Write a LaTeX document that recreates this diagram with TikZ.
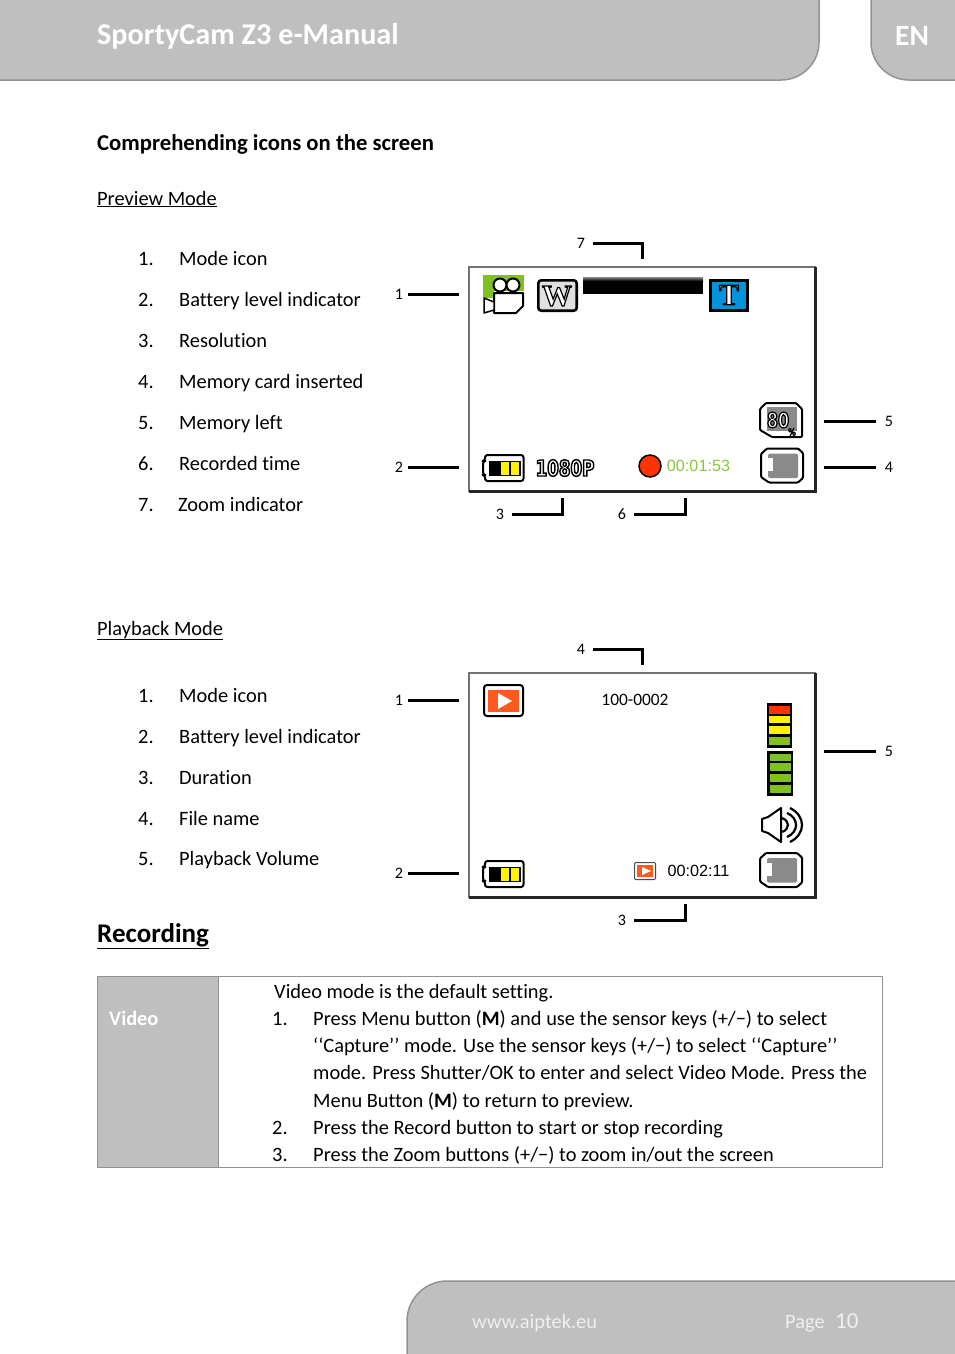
\documentclass[tikz,border=0pt]{standalone}
\usepackage{fontspec}
\setmainfont{Carlito}[Ligatures=NoCommon]
\newfontfamily\serifb{Liberation Serif Bold}
\newfontfamily\arialf{Liberation Sans}
\newfontfamily\iconb{DejaVu Sans Bold}[FakeStretch=0.76]
\definecolor{band}{HTML}{BFBFBF}
\definecolor{bandline}{HTML}{939393}
\definecolor{oranger}{HTML}{FF5A1E}
\definecolor{redm}{HTML}{FF3300}
\definecolor{greenm}{HTML}{80C020}
\definecolor{timegreen}{HTML}{8CC63F}
\definecolor{blueT}{HTML}{0094DC}
\definecolor{cardgray}{HTML}{8A8A8A}
\newcommand\fs[1]{\fontsize{#1}{#1}\selectfont}
\newcommand\outl[2]{\special{pdf:code q 2 Tr #1 w 0 0 0 RG 1 1 1 rg}#2\special{pdf:code Q}}
\tikzset{
  x=1pt,y=-1pt,
  txt/.style={anchor=base west,inner sep=0pt,text=black,font=\fs{20.4}},
  small/.style={inner sep=0pt,text=black,font=\fs{16}},
  callnum/.style={small,outer xsep=8pt},
  lead/.style={draw=black,line width=3pt,line join=miter},
  bandshape/.style={fill=band,draw=bandline,line width=1.5pt},
  screen/.style={fill=white,draw=gray!90!black,line width=1.2pt},
  screenedge/.style={draw=black!85,line width=3pt},
  iconline/.style={draw=black,line width=2pt,line join=round},
  timetext/.style={inner sep=0pt,font=\arialf\fs{16.2}},
}
\newcommand\batteryicon[2]{\begin{scope}[shift={(#1,#2)}]
  \draw[iconline,fill=white,rounded corners=2.5pt] (3,0) -- (41.5,0) -- (41.5,26) -- (3,26) -- (3,20) -- (1,20) -- (1,6) -- (3,6) -- cycle;
  \fill[black] (7,6) rectangle (39,20.5);
  \fill[yellow] (19,7) rectangle (27,19.5);
  \fill[yellow] (29,7) rectangle (37,19.5);
\end{scope}}
\newcommand\cardicon[2]{\begin{scope}[shift={(#1,#2)}]
  \draw[iconline,fill=white,rounded corners=1pt] (7,0.5) -- (38,0.5) -- (43,5) -- (43,30) -- (38,34.5) -- (9,34.5) -- (1,29) -- (1,6) -- cycle;
  \fill[cardgray,rounded corners=1.5pt] (8,5.5) rectangle (38,30);
  \fill[white] (8,10) rectangle (13,23);
\end{scope}}
\begin{document}
\begin{tikzpicture}
\useasboundingbox (0,0) rectangle (954,1354);
\fill[white] (0,0) rectangle (954,1354);
% header
\draw[bandshape] (-3,-3) -- (819,-3) -- (819,42) .. controls (819,63) and (802,80) .. (781,80) -- (-3,80) -- cycle;
\draw[bandshape] (957,-3) -- (871,-3) -- (871,42) .. controls (871,63) and (888,80) .. (909,80) -- (957,80) -- cycle;
\node[txt,text=white,font=\bfseries\fs{30.2}] (title) at (97,45) {SportyCam Z3 e-Manual};
\node[txt,text=white,font=\bfseries\fs{29.5}] (lang) at (895,46) {EN};
% footer
\draw[bandshape] (407,1357) -- (407,1321) .. controls (407,1299) and (425,1281) .. (447,1281) -- (957,1281) -- (957,1357) -- cycle;
\node[txt,text=white!94!black] (web) at (472,1328) {www.aiptek.eu};
\node[txt,text=white!94!black] (pagew) at (785,1328) {Page};
\node[txt,text=white!94!black,font=\fs{23}] (pagen) at (835,1328) {10};
% headings
\node[txt,font=\bfseries\fs{22.7}] (h1) at (97,150) {Comprehending icons on the screen};
\node[txt] (prev) at (97,205) {\underline{Preview Mode}};
\node[txt] (play) at (97,635) {\underline{Playback Mode}};
\node[txt,font=\bfseries\fs{27}] (rec) at (97,942) {\underline{Recording}};
% preview list
\node[txt] (pn1) at (138,265.5) {1.}; \node[txt] (pt1) at (179,265.5) {Mode icon};
\node[txt] (pn2) at (138,306.5) {2.}; \node[txt] (pt2) at (179,306.5) {Battery level indicator};
\node[txt] (pn3) at (138,347.5) {3.}; \node[txt] (pt3) at (179,347.5) {Resolution};
\node[txt] (pn4) at (138,388.5) {4.}; \node[txt] (pt4) at (179,388.5) {Memory card inserted};
\node[txt] (pn5) at (138,429.5) {5.}; \node[txt] (pt5) at (179,429.5) {Memory left};
\node[txt] (pn6) at (138,470.5) {6.}; \node[txt] (pt6) at (179,470.5) {Recorded time};
\node[txt] (pn7) at (138,511.5) {7.}; \node[txt] (pt7) at (178,511.5) {Zoom indicator};
% playback list
\node[txt] (bn1) at (138,702.5) {1.}; \node[txt] (bt1) at (179,702.5) {Mode icon};
\node[txt] (bn2) at (138,743.5) {2.}; \node[txt] (bt2) at (179,743.5) {Battery level indicator};
\node[txt] (bn3) at (138,784.5) {3.}; \node[txt] (bt3) at (179,784.5) {Duration};
\node[txt] (bn4) at (138,825.5) {4.}; \node[txt] (bt4) at (179,825.5) {File name};
\node[txt] (bn5) at (138,865.5) {5.}; \node[txt] (bt5) at (179,865.5) {Playback Volume};
% preview screen
\draw[screen] (469,267) rectangle (815.5,491);
\draw[screenedge] (815.5,267) -- (815.5,491) -- (469,491);
% camera
\fill[greenm] (483,275) rectangle (524,291);
\fill[greenm] (483,291) rectangle (494,298);
\draw[iconline,fill=white] (494,293) -- (523,293) -- (523,306) -- (516,313) -- (494,313) -- cycle;
\draw[iconline,fill=white,line width=1.5pt] (484,298) -- (494,302) -- (494,310) -- (484,313) -- cycle;
\draw[iconline,fill=white] (500,285) circle[radius=6.5];
\draw[iconline,fill=white] (513,285) circle[radius=6.5];
% W
\draw[iconline,line width=2.6pt,fill=black!12,rounded corners=3pt] (538.3,280.3) rectangle (576.7,310.7);
\node[inner sep=0pt,font=\serifb\fs{30}] (wlab) at (557,296) {\outl{1.2}{W}};
% zoom bar
\shade[top color=black!45,bottom color=black] (583,277) rectangle (703,281);
\fill[black] (583,281) rectangle (703,294);
% T
\draw[draw=black,line width=3pt,fill=blueT] (710.5,280.5) rectangle (747.5,310.5);
\node[inner sep=0pt,font=\serifb\fs{30}] (tlab) at (729,295) {\outl{1.2}{T}};
% 80%
\draw[iconline,fill=white,rounded corners=1pt] (766,403) -- (796,403) -- (802,409) -- (802,437) -- (772,437) -- (760,430) -- (760,409) -- cycle;
\fill[cardgray] (767,407) rectangle (797,431);
\node[inner sep=0pt,font=\iconb\fs{21}] (eighty) at (778,420) {\outl{1.2}{80}};
\node[inner sep=0pt,font=\iconb\fs{10}] (pct) at (792,432) {\outl{0.5}{\%}};
\cardicon{760}{448}
\batteryicon{482}{455}
\node[inner sep=0pt,font=\iconb\fs{22}] (res) at (565,468) {\outl{1.4}{1080P}};
\draw[draw=black,line width=1.5pt,fill=redm] (650,466) circle[radius=11];
\node[timetext,text=timegreen] (tm1) at (698.5,466) {00:01:53};
% preview callouts
\node[callnum,outer xsep=5pt] (c1) at (399,294) {1};
\node[callnum,outer xsep=5pt] (c2) at (399,467) {2};
\node[callnum,outer xsep=9pt] (c5) at (889,421) {5};
\node[callnum,outer xsep=9pt] (c4) at (889,467) {4};
\node[callnum] (c7) at (581,243) {7};
\node[callnum] (c3) at (500,514) {3};
\node[callnum] (c6) at (622,514) {6};
\coordinate (e1) at (459,294); \coordinate (e2) at (459,467);
\coordinate (e5) at (824,421); \coordinate (e4) at (824,467);
\coordinate (e7) at (642,259); \coordinate (e3) at (562,498); \coordinate (e6) at (685,498);
\draw[lead] (c1) -- (e1);
\draw[lead] (c2) -- (e2);
\draw[lead] (c5) -- (e5);
\draw[lead] (c4) -- (e4);
\draw[lead] (c7.east) -| (e7);
\draw[lead] (c3.east) -| (e3);
\draw[lead] (c6.east) -| (e6);
% playback screen
\draw[screen] (469,673) rectangle (815.5,897);
\draw[screenedge] (815.5,673) -- (815.5,897) -- (469,897);
\draw[iconline,fill=white,rounded corners=3pt] (484,685) rectangle (523,716);
\fill[oranger] (488,690) rectangle (519,712);
\fill[white] (498,693) -- (512,701) -- (498,709) -- cycle;
\node[inner sep=0pt,font=\fs{17.4}] (fname) at (635,700) {100-0002};
\fill[black] (767,703) rectangle (792,748);
\fill[redm] (769,706) rectangle (790,714);
\fill[yellow] (769,716) rectangle (790,723);
\fill[yellow] (769,726) rectangle (790,734);
\fill[greenm] (769,737) rectangle (790,745);
\fill[black] (767,751) rectangle (793,796);
\fill[greenm] (770,754) rectangle (791,761);
\fill[greenm] (770,763) rectangle (791,771);
\fill[greenm] (770,774) rectangle (791,782);
\fill[greenm] (770,785) rectangle (791,793);
% speaker
\draw[iconline,fill=white] (781,808) -- (781,842) -- (768,833) -- (762,831) -- (762,819) -- (768,817) -- cycle;
\draw[black,line width=2.2pt] (782,818) .. controls (790,821) and (790,829) .. (782,832);
\draw[black,line width=2.2pt] (787,813) .. controls (799,818) and (799,832) .. (787,837);
\draw[black,line width=2.2pt] (790,808) .. controls (806,816) and (806,834) .. (790,842);
\cardicon{759}{852.5}
\batteryicon{482}{861}
\draw[draw=black!70,line width=1pt,fill=white,rounded corners=1pt] (634.5,862.5) rectangle (655.5,879.5);
\fill[oranger] (637,865) rectangle (653,877);
\fill[white] (642,867) -- (651,871) -- (642,875) -- cycle;
\node[timetext,text=black] (tm2) at (698.5,871) {00:02:11};
% playback callouts
\node[callnum,outer xsep=5pt] (d1) at (399,700) {1};
\node[callnum,outer xsep=5pt] (d2) at (399,873) {2};
\node[callnum,outer xsep=9pt] (d5) at (889,751) {5};
\node[callnum] (d4) at (581,649) {4};
\node[callnum] (d3) at (622,920) {3};
\coordinate (f1) at (459,700); \coordinate (f2) at (459,873); \coordinate (f5) at (824,751);
\coordinate (f4) at (642,665); \coordinate (f3) at (685,904);
\draw[lead] (d1) -- (f1);
\draw[lead] (d2) -- (f2);
\draw[lead] (d5) -- (f5);
\draw[lead] (d4.east) -| (f4);
\draw[lead] (d3.east) -| (f3);
% table
\fill[band] (97,976) rectangle (218,1167);
\draw[draw=bandline,line width=1pt] (97,976) rectangle (882,1167);
\draw[draw=bandline,line width=1pt] (218,976) -- (218,1167);
\node[txt,text=white,font=\bfseries\fs{20.4}] (video) at (109,1025) {Video};
\node[txt] (l0) at (274,998) {Video mode is the default setting.};
\node[txt] (m1) at (272,1025) {1.};
\node[txt] (l1) at (313,1025) {Press Menu button (\textbf{M}) and use the sensor keys (+/−) to select};
\node[txt] (l2) at (313,1052) {‘‘Capture’’ mode. Use the sensor keys (+/−) to select ‘‘Capture’’};
\node[txt] (l3) at (313,1079) {mode. Press Shutter/OK to enter and select Video Mode. Press the};
\node[txt] (l4) at (313,1107) {Menu Button (\textbf{M}) to return to preview.};
\node[txt] (m2) at (272,1134) {2.};
\node[txt] (l5) at (313,1134) {Press the Record button to start or stop recording};
\node[txt] (m3) at (272,1161) {3.};
\node[txt] (l6) at (313,1161) {Press the Zoom buttons (+/−) to zoom in/out the screen};
\end{tikzpicture}
\end{document}
